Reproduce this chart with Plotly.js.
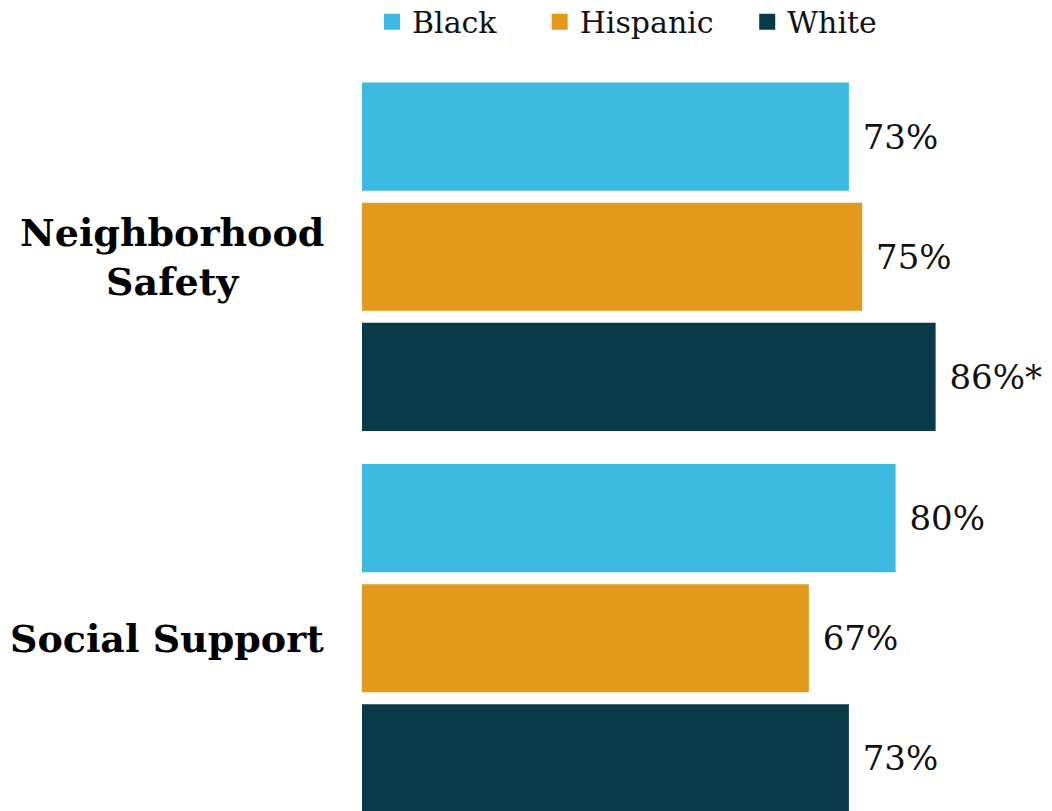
<!DOCTYPE html>
<html>
<head>
<meta charset="utf-8">
<script src="https://cdn.plot.ly/plotly-3.0.1.min.js"></script>
<style>
  html, body { margin: 0; padding: 0; background: #fff; }
  #chart { width: 1052px; height: 811px; }
</style>
</head>
<body>
<div id="chart"></div>
<script>
// ---- Data ----
const categories = ['Neighborhood Safety', 'Social Support'];
const categoryLabels = ['Neighborhood<br>Safety', 'Social Support'];
const seriesNames = ['Black', 'Hispanic', 'White'];
const blackValues = [73, 80];
const hispanicValues = [75, 67];
const whiteValues = [86, 73];
const blackLabels = ['73%', '80%'];
const hispanicLabels = ['75%', '67%'];
const whiteLabels = ['86%*', '73%'];

// ---- Style ----
const colors = ['#3CB9E0', '#E39A1C', '#083A48'];
const serif = 'DejaVu Serif, Liberation Serif, serif';
const legendPad = [4, 3, 0]; // trailing spacing after each legend entry

const seriesValues = [blackValues, hispanicValues, whiteValues];
const seriesLabels = [blackLabels, hispanicLabels, whiteLabels];
const nb = '\u00A0';

const traces = [];
seriesNames.forEach((name, i) => {
  traces.push({
    type: 'bar',
    orientation: 'h',
    name: name,
    y: categories,
    x: seriesValues[i],
    text: seriesLabels[i].map(t => nb + t),
    textposition: 'outside',
    constraintext: 'none',
    cliponaxis: false,
    textfont: { family: serif, size: 34, color: '#111111' },
    marker: { color: colors[i], line: { width: 0 } },
    showlegend: false,
    hoverinfo: 'skip'
  });
});
// legend entries (square markers)
seriesNames.forEach((name, i) => {
  traces.push({
    type: 'scatter',
    mode: 'markers',
    name: name + nb.repeat(legendPad[i]),
    x: [null],
    y: [null],
    marker: { symbol: 'square', size: 17, color: colors[i] },
    showlegend: true,
    hoverinfo: 'skip'
  });
});

const annotations = categories.map((c, i) => ({
  xref: 'paper',
  yref: 'y',
  x: -0.052,
  y: c,
  xanchor: 'right',
  yanchor: 'middle',
  align: 'center',
  showarrow: false,
  text: '<b>' + categoryLabels[i] + '</b>',
  font: { family: serif, size: 38, color: '#000000' }
}));

const layout = {
  width: 1052,
  height: 811,
  margin: { l: 362, r: 0, t: 49, b: 0, pad: 0, autoexpand: false },
  paper_bgcolor: '#ffffff',
  plot_bgcolor: '#ffffff',
  barmode: 'group',
  bargap: 0.055,
  bargroupgap: 0.1,
  xaxis: { range: [0, 103.45], visible: false, fixedrange: true },
  yaxis: {
    type: 'category',
    range: [1.4528, -0.5446],
    visible: false,
    fixedrange: true
  },
  showlegend: true,
  legend: {
    orientation: 'h',
    xref: 'container',
    yref: 'paper',
    x: 0.596,
    xanchor: 'center',
    y: 1.07,
    yanchor: 'top',
    font: { family: serif, size: 30, color: '#111111' },
    itemwidth: 30,
    bgcolor: 'rgba(0,0,0,0)'
  },
  annotations: annotations
};

Plotly.newPlot('chart', traces, layout, { displayModeBar: false, staticPlot: true });
</script>
</body>
</html>
